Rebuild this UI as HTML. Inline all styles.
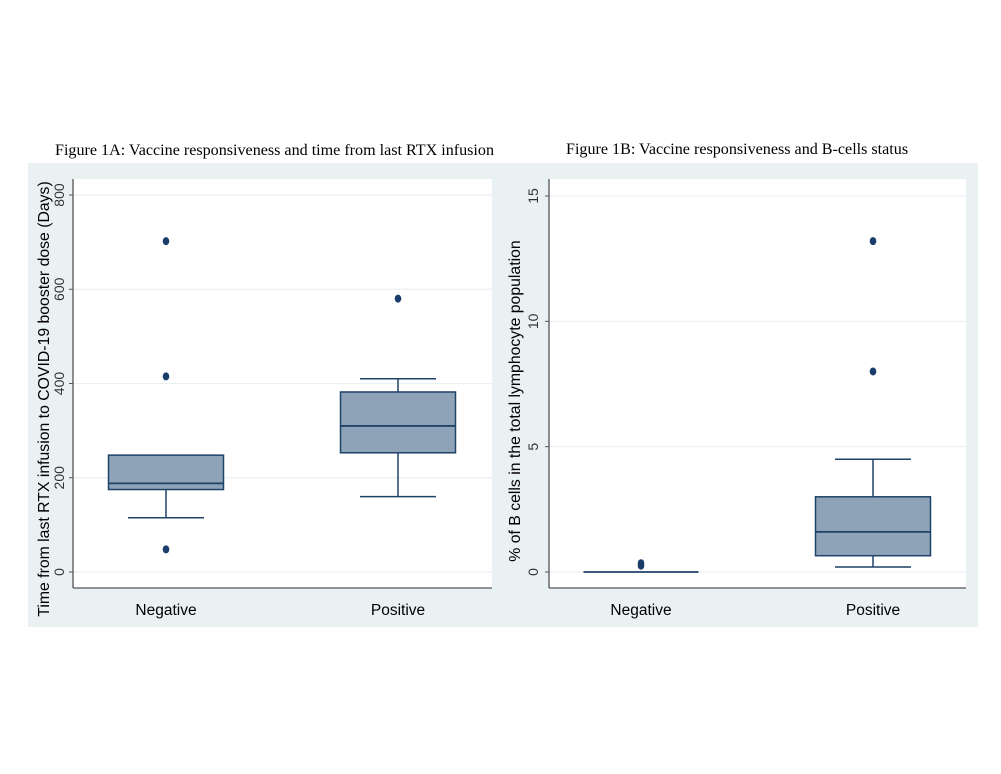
<!DOCTYPE html>
<html><head><meta charset="utf-8"><style>
body{margin:0;background:#fff;}
svg{display:block;}
</style></head><body>
<svg id="chart" width="1001" height="774" xmlns="http://www.w3.org/2000/svg">
<text x="55" y="155" font-family="Liberation Serif, serif" font-size="16.1" fill="#000">Figure 1A: Vaccine responsiveness and time from last RTX infusion</text>
<text x="566" y="154" font-family="Liberation Serif, serif" font-size="16.1" fill="#000">Figure 1B: Vaccine responsiveness and B-cells status</text>
<g id="pA"></g><g id="pB"></g>
</svg>
<script>
const NS='http://www.w3.org/2000/svg';
const categories=['Negative','Positive'];
const ticksA=[0,200,400,600,800];
const ticksB=[0,5,10,15];
// [whiskerLow, q1, median, q3, whiskerHigh]
const boxA_neg=[115,175,188,248,248];
const boxA_pos=[160,253,310,382,410];
const outA_neg=[702,415,48];
const outA_pos=[580];
const boxB_neg=[0,0,0,0,0];
const boxB_pos=[0.2,0.65,1.6,3.0,4.5];
const outB_neg=[0.35,0.25];
const outB_pos=[8,13.2];

function mk(p,tag,a,name){const e=document.createElementNS(NS,tag);for(const k in a)e.setAttribute(k,a[k]);


p.appendChild(e);return e;}

function panel(g,cfg){
  const {bx,by,bw,bh,px0,px1,py0,py1,y0px,ytop,ymax,ticks,boxes,outs,xc,half,title,tickX,titleX,titleY}=cfg;
  mk(g,'rect',{x:bx,y:by,width:bw,height:bh,fill:'#eaf1f3'},'panel-background');
  mk(g,'rect',{x:px0,y:py0,width:px1-px0,height:py1-py0,fill:'#fff'},'plot-area');
  const ys=v=>y0px-(v/ymax)*(y0px-ytop);
  ticks.forEach(t=>{
    mk(g,'line',{x1:px0,x2:px1,y1:ys(t),y2:ys(t),stroke:'#eaf1f3','stroke-width':1.2},'gridline');
    mk(g,'line',{x1:px0-4,x2:px0,y1:ys(t),y2:ys(t),stroke:'#555','stroke-width':1},'y-tick');
    const tx=mk(g,'text',{x:tickX,y:ys(t),transform:`rotate(-90 ${tickX} ${ys(t)})`,'text-anchor':'middle','font-family':'Liberation Sans, sans-serif','font-size':14,fill:'#333'},'y-tick-label');
    tx.textContent=t;
  });
  mk(g,'line',{x1:px0,x2:px0,y1:py0,y2:py1,stroke:'#555','stroke-width':1.3},'y-axis-line');
  mk(g,'line',{x1:px0,x2:px1,y1:py1,y2:py1,stroke:'#555','stroke-width':1.3},'x-axis-line');
  const yt=mk(g,'text',{x:titleX,y:titleY,transform:`rotate(-90 ${titleX} ${titleY})`,'text-anchor':'middle','font-family':'Liberation Sans, sans-serif','font-size':15.8,fill:'#000'},'y-axis-title');
  yt.textContent=title;
  boxes.forEach((b,i)=>{
    const c=xc[i],s='#1f4269';
    const lbl=mk(g,'text',{x:c,y:615,'text-anchor':'middle','font-family':'Liberation Sans, sans-serif','font-size':15.5,fill:'#000'},'x-category-label');
    lbl.textContent=categories[i];
    if(b[4]>b[3]){mk(g,'line',{x1:c,x2:c,y1:ys(b[3]),y2:ys(b[4]),stroke:s,'stroke-width':1.5},'upper-whisker');
      mk(g,'line',{x1:c-38,x2:c+38,y1:ys(b[4]),y2:ys(b[4]),stroke:s,'stroke-width':1.5},'upper-whisker-cap');}
    if(b[1]>b[0]){mk(g,'line',{x1:c,x2:c,y1:ys(b[1]),y2:ys(b[0]),stroke:s,'stroke-width':1.5},'lower-whisker');
      mk(g,'line',{x1:c-38,x2:c+38,y1:ys(b[0]),y2:ys(b[0]),stroke:s,'stroke-width':1.5},'lower-whisker-cap');}
    mk(g,'rect',{x:c-half,y:ys(b[3]),width:2*half,height:Math.max(0,ys(b[1])-ys(b[3])),fill:'#8fa3b8',stroke:s,'stroke-width':1.5},'box-'+categories[i].toLowerCase());
    mk(g,'line',{x1:c-half,x2:c+half,y1:ys(b[2]),y2:ys(b[2]),stroke:s,'stroke-width':1.8},'median-line');
    outs[i].forEach(v=>mk(g,'ellipse',{cx:c,cy:ys(v),rx:3.3,ry:4,fill:'#1a3d6b'},'outlier-point'));
  });
}
panel(document.getElementById('pA'),{bx:28,by:163,bw:478,bh:464,px0:73,px1:492,py0:179,py1:588,y0px:572,ytop:195,ymax:800,ticks:ticksA,
 boxes:[boxA_neg,boxA_pos],outs:[outA_neg,outA_pos],xc:[166,398],half:57.5,title:'Time from last RTX infusion to COVID-19 booster dose (Days)',tickX:64,titleX:49,titleY:399});
panel(document.getElementById('pB'),{bx:500,by:163,bw:478,bh:464,px0:549,px1:966,py0:179,py1:588,y0px:572,ytop:196,ymax:15,ticks:ticksB,
 boxes:[boxB_neg,boxB_pos],outs:[outB_neg,outB_pos],xc:[641,873],half:57.5,title:'% of B cells in the total lymphocyte population',tickX:538,titleX:520,titleY:401});
</script>
</body></html>
